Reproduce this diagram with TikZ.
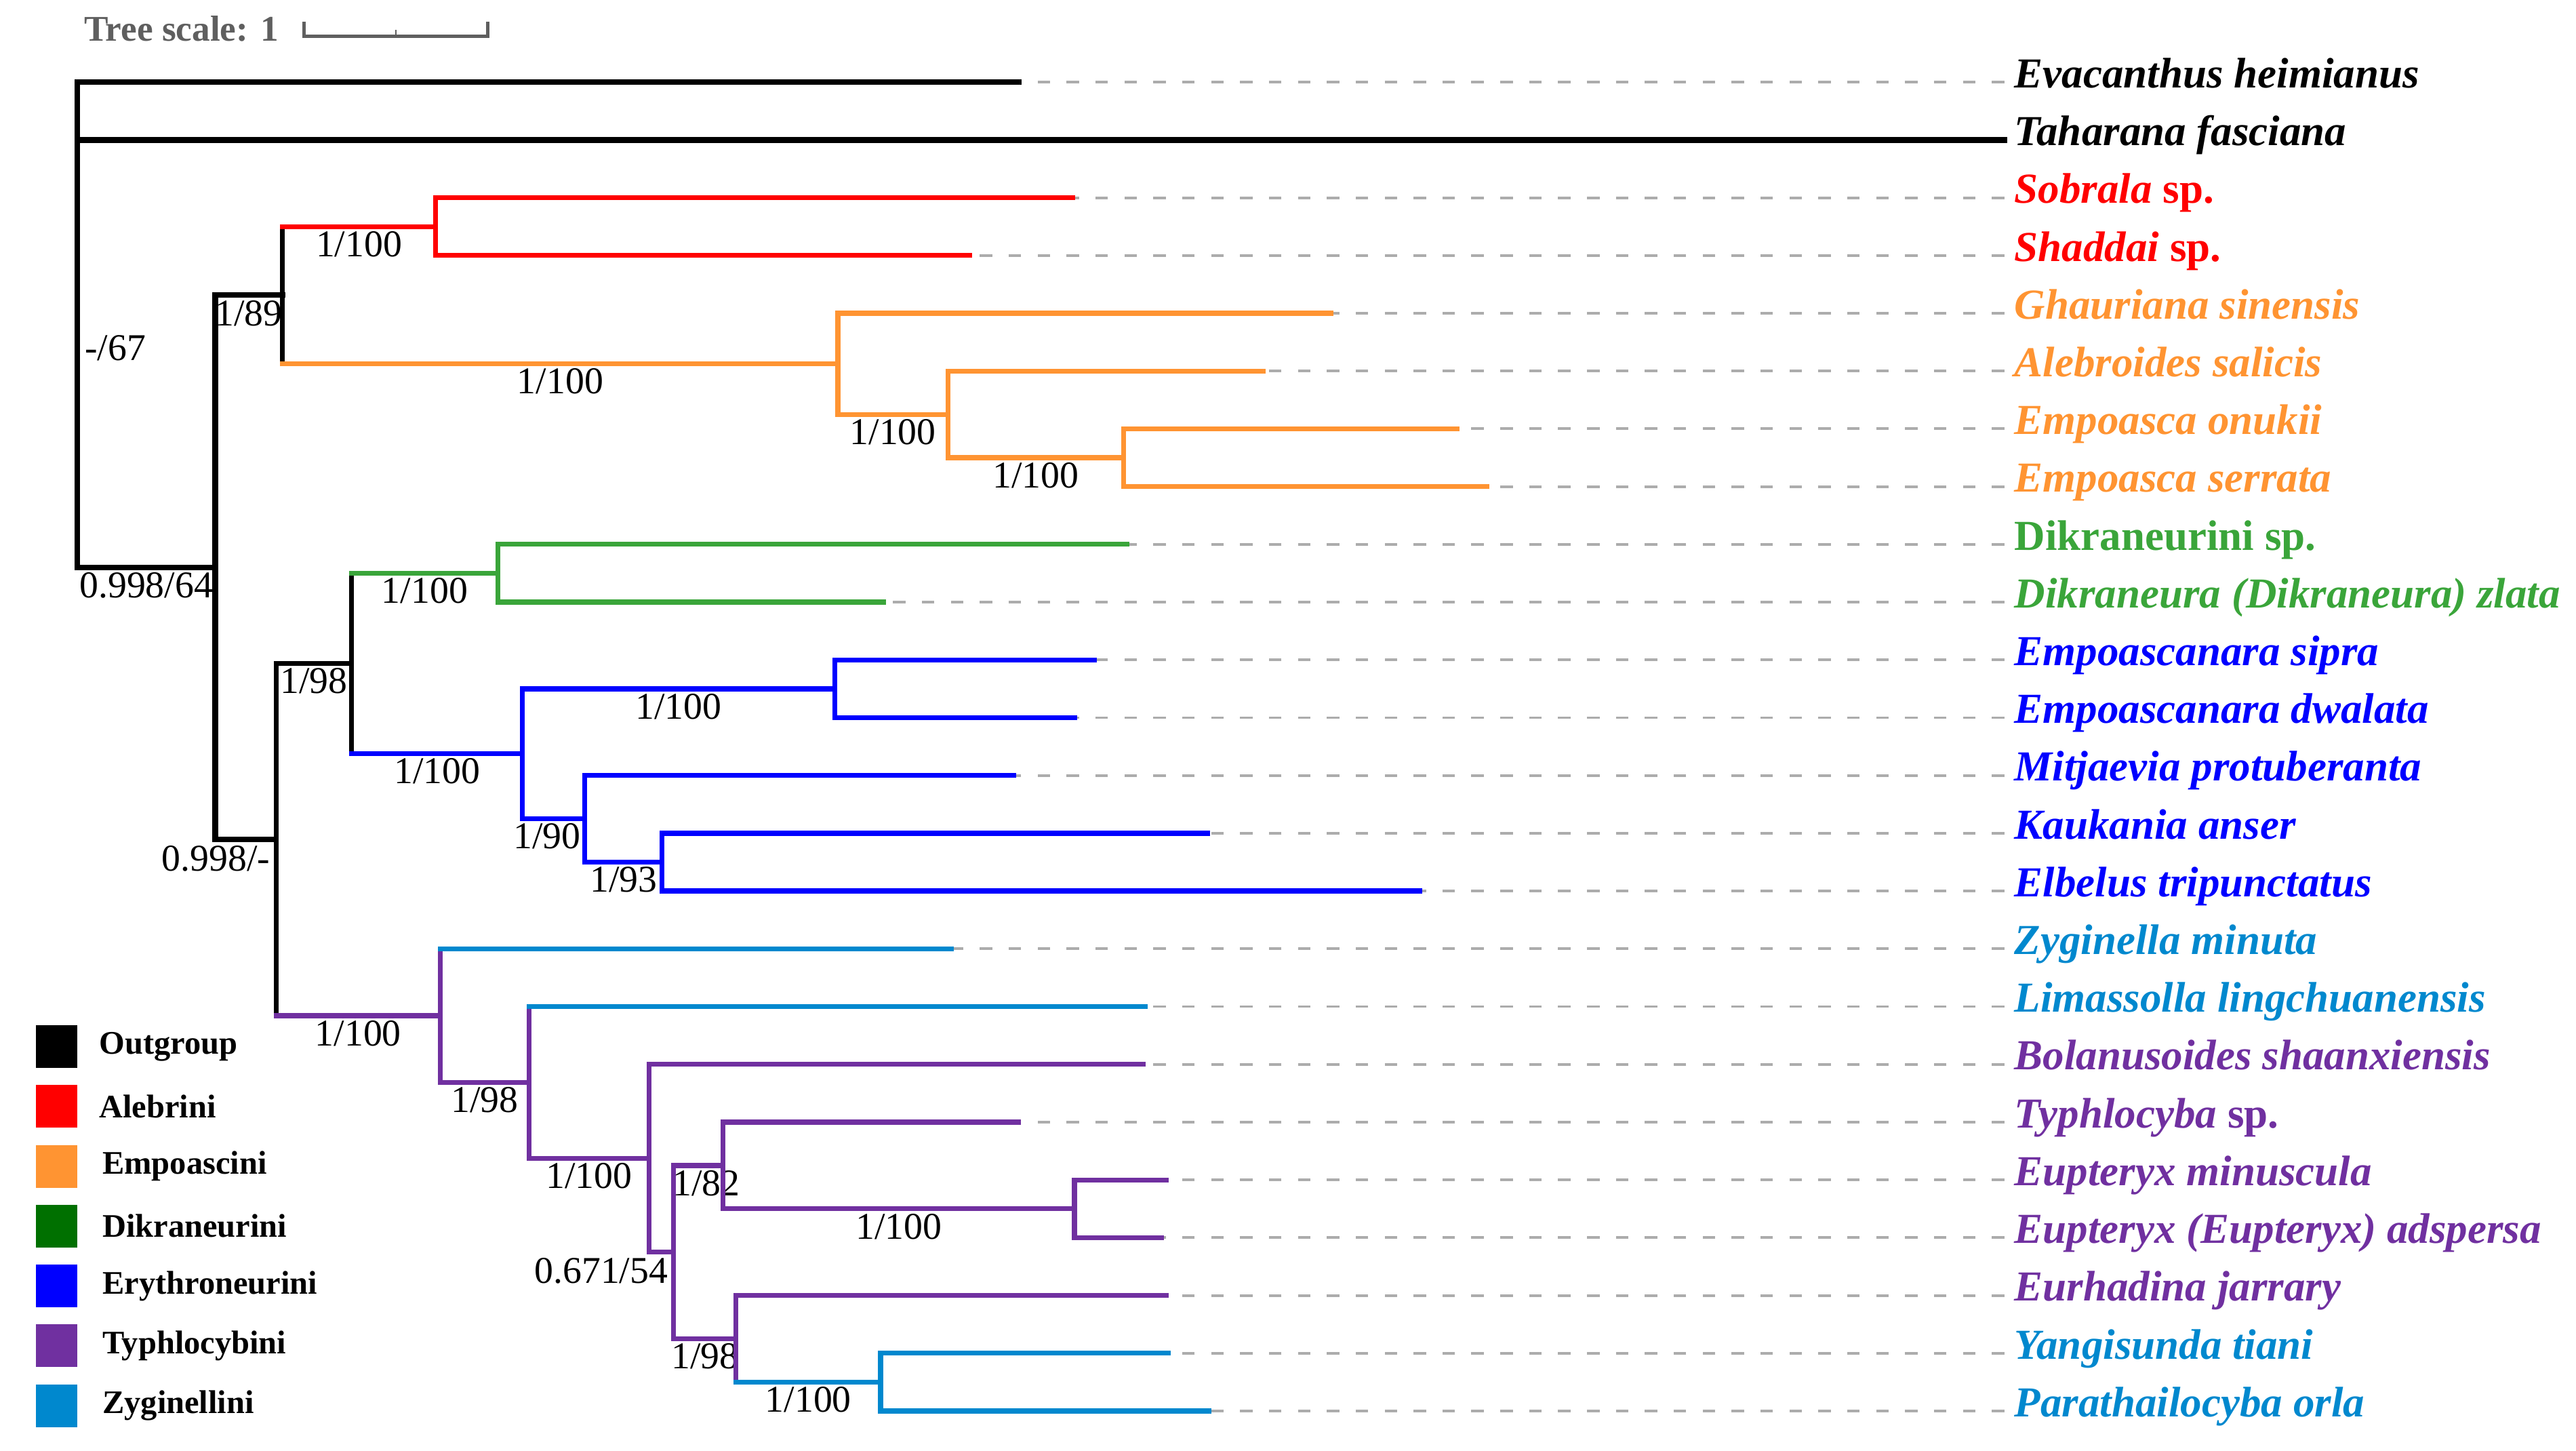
\documentclass[tikz,border=0pt]{standalone}
\usepackage{fontspec}
\setmainfont{Liberation Serif}
\usetikzlibrary{positioning}

\definecolor{alebcol}{RGB}{255,0,0}
\definecolor{empcol}{RGB}{255,148,50}
\definecolor{dikcol}{RGB}{58,165,58}
\definecolor{dikdark}{RGB}{0,112,0}
\definecolor{erycol}{RGB}{0,0,255}
\definecolor{typcol}{RGB}{112,48,160}
\definecolor{zygcol}{RGB}{0,136,206}
\definecolor{guidegray}{RGB}{172,172,172}
\definecolor{scalegray}{RGB}{95,95,95}

\begin{document}
\begin{tikzpicture}[
        x=1pt, y=-1pt,
        branch/.style={line width=3pt, line cap=rect},
        outbranch/.style={line width=3.4pt, line cap=rect},
        guide/.style={draw=guidegray, line width=1.6pt, dash pattern=on 7.6pt off 10pt},
        leaf/.style={anchor=west, inner sep=0pt, text height=0.68em, text depth=0pt, font=\fontsize{26}{30}\selectfont\bfseries},
        support/.style={below, inner sep=1.5pt, text=black, font=\fontsize{23}{27}\selectfont},
        swatch/.style={minimum width=25pt, minimum height=26pt, inner sep=0pt},
        keytext/.style={inner sep=0pt, font=\fontsize{20}{24}\selectfont\bfseries}
    ]
    \useasboundingbox (0,0) rectangle (1568,883);

    % Tree scale
    \node[anchor=base west, inner sep=0pt, text=scalegray, font=\fontsize{22}{26}\selectfont\bfseries] (tree-scale) at (51,25) {Tree scale: 1};
    \coordinate (bar-start) at (185,22);
    \coordinate (bar-mid) at (241,22);
    \coordinate (bar-end) at (297,22);
    \draw[scalegray, line width=2pt] (bar-start) ++(0,-9) -- (bar-start) -- (bar-end) -- ++(0,-9);
    \draw[scalegray, line width=1pt] (bar-mid) -- ++(0,-4);

    % Taxon labels
    \node[leaf] (evacanthus) at (1226,50) {\textit{Evacanthus heimianus}};
    \node[leaf] (taharana) at (1226,85.16) {\textit{Taharana fasciana}};
    \node[leaf, text=alebcol] (sobrala) at (1226,120.32) {\textit{Sobrala} sp.};
    \node[leaf, text=alebcol] (shaddai) at (1226,155.48) {\textit{Shaddai} sp.};
    \node[leaf, text=empcol] (ghauriana) at (1226,190.64) {\textit{Ghauriana sinensis}};
    \node[leaf, text=empcol] (alebroides) at (1226,225.8) {\textit{Alebroides salicis}};
    \node[leaf, text=empcol] (onukii) at (1226,260.96) {\textit{Empoasca onukii}};
    \node[leaf, text=empcol] (serrata) at (1226,296.12) {\textit{Empoasca serrata}};
    \node[leaf, text=dikcol] (dikraneurini) at (1226,331.28) {Dikraneurini sp.};
    \node[leaf, text=dikcol] (zlata) at (1226,366.44) {\textit{Dikraneura (Dikraneura) zlata}};
    \node[leaf, text=erycol] (sipra) at (1226,401.6) {\textit{Empoascanara sipra}};
    \node[leaf, text=erycol] (dwalata) at (1226,436.76) {\textit{Empoascanara dwalata}};
    \node[leaf, text=erycol] (mitjaevia) at (1226,471.92) {\textit{Mitjaevia protuberanta}};
    \node[leaf, text=erycol] (kaukania) at (1226,507.08) {\textit{Kaukania anser}};
    \node[leaf, text=erycol] (elbelus) at (1226,542.24) {\textit{Elbelus tripunctatus}};
    \node[leaf, text=zygcol] (zyginella) at (1226,577.4) {\textit{Zyginella minuta}};
    \node[leaf, text=zygcol] (limassolla) at (1226,612.56) {\textit{Limassolla lingchuanensis}};
    \node[leaf, text=typcol] (bolanusoides) at (1226,647.72) {\textit{Bolanusoides shaanxiensis}};
    \node[leaf, text=typcol] (typhlocyba) at (1226,682.88) {\textit{Typhlocyba} sp.};
    \node[leaf, text=typcol] (minuscula) at (1226,718.04) {\textit{Eupteryx minuscula}};
    \node[leaf, text=typcol] (adspersa) at (1226,753.2) {\textit{Eupteryx (Eupteryx) adspersa}};
    \node[leaf, text=typcol] (eurhadina) at (1226,788.36) {\textit{Eurhadina jarrary}};
    \node[leaf, text=zygcol] (yangisunda) at (1226,823.52) {\textit{Yangisunda tiani}};
    \node[leaf, text=zygcol] (parathailocyba) at (1226,858.68) {\textit{Parathailocyba orla}};

    % Branch tips
    \coordinate (evacanthus-tip) at (620,50);
    \coordinate (taharana-tip) at (1220,85.16);
    \coordinate (sobrala-tip) at (653,120.32);
    \coordinate (shaddai-tip) at (590,155.48);
    \coordinate (ghauriana-tip) at (810,190.64);
    \coordinate (alebroides-tip) at (769,225.8);
    \coordinate (onukii-tip) at (887,260.96);
    \coordinate (serrata-tip) at (905,296.12);
    \coordinate (dikraneurini-tip) at (686,331.28);
    \coordinate (zlata-tip) at (538,366.44);
    \coordinate (sipra-tip) at (666,401.6);
    \coordinate (dwalata-tip) at (654,436.76);
    \coordinate (mitjaevia-tip) at (617,471.92);
    \coordinate (kaukania-tip) at (735,507.08);
    \coordinate (elbelus-tip) at (864,542.24);
    \coordinate (zyginella-tip) at (579,577.4);
    \coordinate (limassolla-tip) at (697,612.56);
    \coordinate (bolanusoides-tip) at (696,647.72);
    \coordinate (typhlocyba-tip) at (620,682.88);
    \coordinate (minuscula-tip) at (710,718.04);
    \coordinate (adspersa-tip) at (707,753.2);
    \coordinate (eurhadina-tip) at (710,788.36);
    \coordinate (yangisunda-tip) at (711,823.52);
    \coordinate (parathailocyba-tip) at (736,858.68);

    % Inner nodes
    \coordinate (root) at (47,212);
    \coordinate (ingroup) at (131,345.3);
    \coordinate (n-aleb-emp) at (172,179.65);
    \coordinate (n-alebrini) at (265,137.9);
    \coordinate (n-empoascini) at (510,221.4);
    \coordinate (n-emp2) at (577,252.2);
    \coordinate (n-emp3) at (684,278.5);
    \coordinate (n-rest) at (168,510.9);
    \coordinate (n-dik-ery) at (214,403.8);
    \coordinate (n-dikraneurini) at (303,348.9);
    \coordinate (n-erythroneurini) at (318,458.7);
    \coordinate (n-ery2) at (508,419.2);
    \coordinate (n-ery3) at (356,498.3);
    \coordinate (n-ery4) at (403,524.7);
    \coordinate (n-typhlocybini) at (268,618.1);
    \coordinate (n-typ2) at (322,658.7);
    \coordinate (n-typ3) at (395,704.9);
    \coordinate (n-typ4) at (410,762);
    \coordinate (n-typ5) at (440,709.3);
    \coordinate (n-typ6) at (654,735.6);
    \coordinate (n-typ7) at (448,814.7);
    \coordinate (n-zyginellini) at (536,841.1);

    % Dashed guides, drawn from the labels back to the tips
    \draw[guide] ([xshift=-6pt]evacanthus.west) -- (evacanthus-tip)
        ([xshift=-6pt]sobrala.west) -- (sobrala-tip) ([xshift=-6pt]shaddai.west) -- (shaddai-tip)
        ([xshift=-6pt]ghauriana.west) -- (ghauriana-tip) ([xshift=-6pt]alebroides.west) -- (alebroides-tip)
        ([xshift=-6pt]onukii.west) -- (onukii-tip) ([xshift=-6pt]serrata.west) -- (serrata-tip)
        ([xshift=-6pt]dikraneurini.west) -- (dikraneurini-tip) ([xshift=-6pt]zlata.west) -- (zlata-tip)
        ([xshift=-6pt]sipra.west) -- (sipra-tip) ([xshift=-6pt]dwalata.west) -- (dwalata-tip)
        ([xshift=-6pt]mitjaevia.west) -- (mitjaevia-tip) ([xshift=-6pt]kaukania.west) -- (kaukania-tip)
        ([xshift=-6pt]elbelus.west) -- (elbelus-tip) ([xshift=-6pt]zyginella.west) -- (zyginella-tip)
        ([xshift=-6pt]limassolla.west) -- (limassolla-tip) ([xshift=-6pt]bolanusoides.west) -- (bolanusoides-tip)
        ([xshift=-6pt]typhlocyba.west) -- (typhlocyba-tip) ([xshift=-6pt]minuscula.west) -- (minuscula-tip)
        ([xshift=-6pt]adspersa.west) -- (adspersa-tip) ([xshift=-6pt]eurhadina.west) -- (eurhadina-tip)
        ([xshift=-6pt]yangisunda.west) -- (yangisunda-tip) ([xshift=-6pt]parathailocyba.west) -- (parathailocyba-tip);

    % Outgroup and backbone (black)
    \draw[outbranch] (root |- evacanthus-tip) -- (root |- ingroup);
    \draw[outbranch] (root |- evacanthus-tip) -- (evacanthus-tip);
    \draw[outbranch] (root |- taharana-tip) -- (taharana-tip);
    \node[support, right, xshift=3pt] (root-support) at (root) {-/67};
    \draw[outbranch] (root |- ingroup) -- node[support] (ingroup-support) {0.998/64} (ingroup);
    \draw[outbranch] (ingroup |- n-aleb-emp) -- (ingroup |- n-rest);
    \draw[outbranch] (ingroup |- n-aleb-emp) -- node[support] (aleb-emp-support) {1/89} (n-aleb-emp);
    \draw[outbranch] (ingroup |- n-rest) -- (n-rest) node[support, below left, inner sep=2pt] (rest-support) {0.998/-};
    \draw[branch] (n-aleb-emp |- n-alebrini) -- (n-aleb-emp |- n-empoascini);
    \draw[branch] (n-rest |- n-dik-ery) -- (n-rest |- n-typhlocybini);
    \draw[branch] (n-rest |- n-dik-ery) -- node[support] (dik-ery-support) {1/98} (n-dik-ery);
    \draw[branch] (n-dik-ery |- n-dikraneurini) -- (n-dik-ery |- n-erythroneurini);

    % Alebrini
    \draw[branch, alebcol] (n-aleb-emp |- n-alebrini) -- node[support] (alebrini-support) {1/100} (n-alebrini);
    \draw[branch, alebcol] (n-alebrini |- sobrala-tip) -- (n-alebrini |- shaddai-tip);
    \draw[branch, alebcol] (n-alebrini |- sobrala-tip) -- (sobrala-tip) (n-alebrini |- shaddai-tip) -- (shaddai-tip);

    % Empoascini
    \draw[branch, empcol] (n-aleb-emp |- n-empoascini) -- node[support] (empoascini-support) {1/100} (n-empoascini);
    \draw[branch, empcol] (n-empoascini |- ghauriana-tip) -- (n-empoascini |- n-emp2);
    \draw[branch, empcol] (n-empoascini |- ghauriana-tip) -- (ghauriana-tip);
    \draw[branch, empcol] (n-empoascini |- n-emp2) -- node[support] (emp2-support) {1/100} (n-emp2);
    \draw[branch, empcol] (n-emp2 |- alebroides-tip) -- (n-emp2 |- n-emp3);
    \draw[branch, empcol] (n-emp2 |- alebroides-tip) -- (alebroides-tip);
    \draw[branch, empcol] (n-emp2 |- n-emp3) -- node[support] (emp3-support) {1/100} (n-emp3);
    \draw[branch, empcol] (n-emp3 |- onukii-tip) -- (n-emp3 |- serrata-tip);
    \draw[branch, empcol] (n-emp3 |- onukii-tip) -- (onukii-tip) (n-emp3 |- serrata-tip) -- (serrata-tip);

    % Dikraneurini
    \draw[branch, dikcol] (n-dik-ery |- n-dikraneurini) -- node[support] (dikraneurini-support) {1/100} (n-dikraneurini);
    \draw[branch, dikcol] (n-dikraneurini |- dikraneurini-tip) -- (n-dikraneurini |- zlata-tip);
    \draw[branch, dikcol] (n-dikraneurini |- dikraneurini-tip) -- (dikraneurini-tip) (n-dikraneurini |- zlata-tip) -- (zlata-tip);

    % Erythroneurini
    \draw[branch, erycol] (n-dik-ery |- n-erythroneurini) -- node[support] (erythroneurini-support) {1/100} (n-erythroneurini);
    \draw[branch, erycol] (n-erythroneurini |- n-ery2) -- (n-erythroneurini |- n-ery3);
    \draw[branch, erycol] (n-erythroneurini |- n-ery2) -- node[support] (ery2-support) {1/100} (n-ery2);
    \draw[branch, erycol] (n-erythroneurini |- n-ery3) -- node[support, xshift=-4pt] (ery3-support) {1/90} (n-ery3);
    \draw[branch, erycol] (n-ery2 |- sipra-tip) -- (n-ery2 |- dwalata-tip);
    \draw[branch, erycol] (n-ery2 |- sipra-tip) -- (sipra-tip) (n-ery2 |- dwalata-tip) -- (dwalata-tip);
    \draw[branch, erycol] (n-ery3 |- mitjaevia-tip) -- (n-ery3 |- n-ery4);
    \draw[branch, erycol] (n-ery3 |- mitjaevia-tip) -- (mitjaevia-tip);
    \draw[branch, erycol] (n-ery3 |- n-ery4) -- node[support] (ery4-support) {1/93} (n-ery4);
    \draw[branch, erycol] (n-ery4 |- kaukania-tip) -- (n-ery4 |- elbelus-tip);
    \draw[branch, erycol] (n-ery4 |- kaukania-tip) -- (kaukania-tip) (n-ery4 |- elbelus-tip) -- (elbelus-tip);

    % Typhlocybini and Zyginellini
    \draw[branch, typcol] (n-rest |- n-typhlocybini) -- node[support] (typhlocybini-support) {1/100} (n-typhlocybini);
    \draw[branch, typcol] (n-typhlocybini |- zyginella-tip) -- (n-typhlocybini |- n-typ2);
    \draw[branch, zygcol] (n-typhlocybini |- zyginella-tip) -- (zyginella-tip);
    \draw[branch, typcol] (n-typhlocybini |- n-typ2) -- node[support] (typ2-support) {1/98} (n-typ2);
    \draw[branch, typcol] (n-typ2 |- limassolla-tip) -- (n-typ2 |- n-typ3);
    \draw[branch, zygcol] (n-typ2 |- limassolla-tip) -- (limassolla-tip);
    \draw[branch, typcol] (n-typ2 |- n-typ3) -- node[support] (typ3-support) {1/100} (n-typ3);
    \draw[branch, typcol] (n-typ3 |- bolanusoides-tip) -- (n-typ3 |- n-typ4);
    \draw[branch, typcol] (n-typ3 |- bolanusoides-tip) -- (bolanusoides-tip);
    \draw[branch, typcol] (n-typ3 |- n-typ4) -- (n-typ4) node[support, below left, inner sep=2pt] (typ4-support) {0.671/54};
    \draw[branch, typcol] (n-typ4 |- n-typ5) -- (n-typ4 |- n-typ7);
    \draw[branch, typcol] (n-typ4 |- n-typ5) -- node[support, xshift=5pt] (typ5-support) {1/82} (n-typ5);
    \draw[branch, typcol] (n-typ4 |- n-typ7) -- node[support] (typ7-support) {1/98} (n-typ7);
    \draw[branch, typcol] (n-typ5 |- typhlocyba-tip) -- (n-typ5 |- n-typ6);
    \draw[branch, typcol] (n-typ5 |- typhlocyba-tip) -- (typhlocyba-tip);
    \draw[branch, typcol] (n-typ5 |- n-typ6) -- node[support] (typ6-support) {1/100} (n-typ6);
    \draw[branch, typcol] (n-typ6 |- minuscula-tip) -- (n-typ6 |- adspersa-tip);
    \draw[branch, typcol] (n-typ6 |- minuscula-tip) -- (minuscula-tip) (n-typ6 |- adspersa-tip) -- (adspersa-tip);
    \draw[branch, typcol] (n-typ7 |- eurhadina-tip) -- (n-typ7 |- n-zyginellini);
    \draw[branch, typcol] (n-typ7 |- eurhadina-tip) -- (eurhadina-tip);
    \draw[branch, zygcol] (n-typ7 |- n-zyginellini) -- node[support] (zyginellini-support) {1/100} (n-zyginellini);
    \draw[branch, zygcol] (n-zyginellini |- yangisunda-tip) -- (n-zyginellini |- parathailocyba-tip);
    \draw[branch, zygcol] (n-zyginellini |- yangisunda-tip) -- (yangisunda-tip) (n-zyginellini |- parathailocyba-tip) -- (parathailocyba-tip);

    % Legend
    \node[swatch, fill=black] (key-outgroup) at (34.5,637) {};
    \node[swatch, fill=alebcol, below=10pt of key-outgroup] (key-alebrini) {};
    \node[swatch, fill=empcol, below=10pt of key-alebrini] (key-empoascini) {};
    \node[swatch, fill=dikdark, below=10pt of key-empoascini] (key-dikraneurini) {};
    \node[swatch, fill=erycol, below=10pt of key-dikraneurini] (key-erythroneurini) {};
    \node[swatch, fill=typcol, below=10pt of key-erythroneurini] (key-typhlocybini) {};
    \node[swatch, fill=zygcol, below=10pt of key-typhlocybini] (key-zyginellini) {};
    \node[keytext, right=13pt of key-outgroup] (key-outgroup-text) {Outgroup};
    \node[keytext, right=13pt of key-alebrini] (key-alebrini-text) {Alebrini};
    \node[keytext, right=15pt of key-empoascini] (key-empoascini-text) {Empoascini};
    \node[keytext, right=15pt of key-dikraneurini] (key-dikraneurini-text) {Dikraneurini};
    \node[keytext, right=15pt of key-erythroneurini] (key-erythroneurini-text) {Erythroneurini};
    \node[keytext, right=15pt of key-typhlocybini] (key-typhlocybini-text) {Typhlocybini};
    \node[keytext, right=15pt of key-zyginellini] (key-zyginellini-text) {Zyginellini};

\end{tikzpicture}
\end{document}
